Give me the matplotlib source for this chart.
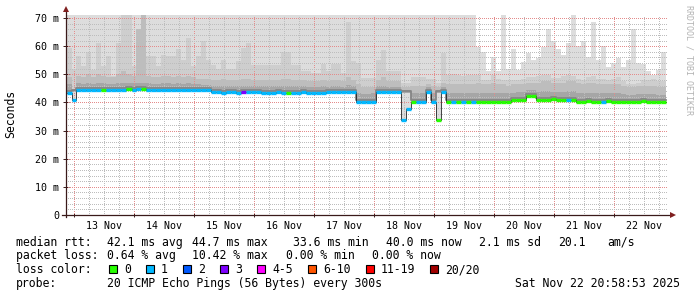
import numpy as np
import matplotlib
matplotlib.use('Agg')
import matplotlib.pyplot as plt
from matplotlib.patches import Rectangle
from matplotlib.transforms import offset_copy

plt.rcParams['font.family'] = 'DejaVu Sans Mono'
plt.rcParams['lines.scale_dashes'] = False

# ---- data (2 hour bins, first bin starts Nov 12 21:00, hours counted from Nov 12 00:00)
t_start = 21
bin_hours = 2

median = [43.5, 40.8, 44.4, 44.4, 44.4, 44.5, 44.4, 44.4, 44.5, 44.4,
          44.5, 44.4, 44.6, 44.5, 44.6, 44.6, 44.5, 44.5, 44.4, 44.5,
          44.5, 44.5, 44.4, 44.5, 44.4, 44.4, 44.4, 44.3, 44.3, 43.7,
          43.6, 43.2, 43.6, 43.6, 43.5, 43.6, 43.6, 43.6, 43.6, 43.5,
          43.5, 43.5, 43.6, 43.4, 43.5, 43.3, 43.3, 43.6, 43.3, 43.5,
          43.3, 43.4, 43.6, 43.6, 43.6, 43.6, 43.7, 43.7, 40.3, 40.2,
          40.2, 40.3, 43.6, 43.7, 43.7, 43.6, 43.6, 33.8, 37.6, 40.3,
          40.3, 40.3, 43.6, 40.3, 33.6, 43.6, 40.3, 40.2, 40.3, 40.2,
          40.3, 40.2, 40.3, 40.3, 40.2, 40.3, 40.3, 40.3, 40.3, 41.0,
          41.0, 41.0, 42.3, 42.3, 41.0, 41.0, 41.0, 41.1, 41.0, 41.0,
          41.0, 40.8, 40.3, 40.3, 40.4, 40.3, 40.3, 40.3, 40.4, 40.3,
          40.3, 40.2, 40.3, 40.3, 40.3, 40.4, 40.3, 40.3, 40.3, 40.3]

# bottom of the darker smoke (differs from median inside the short dips)
smoke_floor = [43.5, 43.6, 44.4, 44.4, 44.4, 44.5, 44.4, 44.4, 44.5, 44.4,
               44.5, 44.4, 44.6, 44.5, 44.6, 44.6, 44.5, 44.5, 44.4, 44.5,
               44.5, 44.5, 44.4, 44.5, 44.4, 44.4, 44.4, 44.3, 44.3, 43.7,
               43.6, 43.2, 43.6, 43.6, 43.5, 43.6, 43.6, 43.6, 43.6, 43.5,
               43.5, 43.5, 43.6, 43.4, 43.5, 43.3, 43.3, 43.6, 43.3, 43.5,
               43.3, 43.4, 43.6, 43.6, 43.6, 43.6, 43.7, 43.7, 40.3, 40.2,
               40.2, 40.3, 43.6, 43.7, 43.7, 43.6, 43.6, 43.5, 43.5, 40.3,
               40.3, 40.3, 43.6, 40.3, 43.5, 43.6, 40.3, 40.2, 40.3, 40.2,
               40.3, 40.2, 40.3, 40.3, 40.2, 40.3, 40.3, 40.3, 40.3, 41.0,
               41.0, 41.0, 42.3, 42.3, 41.0, 41.0, 41.0, 41.1, 41.0, 41.0,
               41.0, 40.8, 40.3, 40.3, 40.4, 40.3, 40.3, 40.3, 40.4, 40.3,
               40.3, 40.2, 40.3, 40.3, 40.3, 40.4, 40.3, 40.3, 40.3, 40.3]

# loss class of each bin: 0=0, 1=1, 2=2, 3=3, 4=4-5, 5=6-10, 6=11-19, 7=20/20
loss = [1, 1, 1, 1, 1, 1, 1, 0, 1, 1,
        1, 1, 0, 1, 1, 0, 1, 1, 1, 1,
        1, 1, 1, 1, 1, 1, 1, 1, 1, 1,
        1, 1, 1, 1, 1, 3, 1, 1, 1, 1,
        1, 1, 1, 1, 0, 1, 1, 1, 1, 1,
        1, 1, 1, 1, 1, 1, 1, 1, 1, 1,
        1, 1, 1, 1, 1, 1, 1, 1, 1, 0,
        1, 1, 1, 1, 0, 1, 0, 1, 0, 1,
        0, 1, 0, 0, 0, 0, 0, 0, 0, 0,
        0, 0, 0, 0, 0, 0, 0, 0, 0, 0,
        1, 0, 0, 0, 0, 0, 0, 1, 0, 0,
        0, 0, 0, 0, 0, 0, 0, 0, 0, 0]

# smoke: max ping and three inner percentile levels (ms)
smoke_max = [75, 75, 75, 75, 75, 75, 75, 75, 75, 75,
             75, 75, 75, 75, 75, 75, 75, 75, 75, 75,
             75, 75, 75, 75, 75, 75, 75, 75, 75, 75,
             75, 75, 75, 75, 75, 75, 75, 75, 75, 75,
             75, 75, 75, 75, 75, 75, 75, 75, 75, 75,
             75, 75, 75, 75, 75, 75, 75, 75, 75, 75,
             75, 75, 75, 75, 75, 75, 75, 75, 75, 75,
             75, 75, 75, 75, 75, 75, 75, 75, 75, 75,
             75, 75, 59.8, 58, 51, 56, 51, 75, 52, 59,
             51.5, 54.4, 57.4, 55, 55.7, 59.8, 66, 62, 59, 56.7,
             61, 75, 60, 62, 56, 68.7, 55, 60, 52.5, 54,
             55.7, 52.5, 55, 66, 54, 53.5, 51, 49.7, 51.5, 58]

smoke_p2 = [59.4, 52, 56.6, 53, 58, 51.5, 61, 53, 56.6, 49.5,
            61, 75, 75, 53, 56, 62.5, 56.6, 56.6, 53, 57,
            56.6, 56.6, 59, 55, 63, 53, 56.6, 62, 55, 53.3,
            52, 55, 52, 52, 54.6, 59.4, 61.1, 53.3, 53.3, 53.3,
            53.3, 53.3, 53.3, 58, 58, 53.3, 53.3, 51, 51, 50.5,
            50.5, 53.8, 51, 53.8, 53.8, 50.5, 68.7, 54.6, 54, 48.7,
            48.7, 48.7, 55, 58.6, 51, 51, 51, 47, 47, 49,
            49, 49, 48.5, 48.5, 47, 57.4, 49.7, 50, 49.7, 49.5,
            49.7, 49.7, 49.8, 48, 48, 49.8, 48.5, 48, 48, 48,
            48, 48.5, 49, 49, 49.5, 49.8, 49.8, 48.8, 48.8, 49.5,
            49.8, 49.5, 48.5, 48, 49, 49.5, 48.5, 48.5, 48, 48.5,
            49, 47.5, 46.5, 46.5, 47, 48, 48, 48.5, 47.5, 47.5]

smoke_p3 = [49, 44, 49.5, 49, 50, 49, 50, 49.5, 49, 49,
            50, 51, 50, 49.5, 66, 75, 49.5, 49, 49, 49.5,
            49.5, 49, 49.5, 49, 49.5, 49, 48.5, 48.5, 48.5, 48,
            48, 48.5, 48, 48, 48, 48.5, 48.5, 48, 48, 48,
            48, 48, 48, 48.5, 48.5, 48, 48, 48, 47.5, 47.5,
            47.5, 48, 47.5, 48, 48, 47.5, 49, 48, 46.5, 45.5,
            45.5, 45.5, 48, 49, 47.5, 47.5, 47.5, 45.5, 45.5, 46,
            46, 46, 46.5, 46, 45.5, 47, 46.5, 46.5, 46.5, 46.5,
            46.5, 46.5, 47, 46.5, 46.5, 47, 46.5, 46.5, 46, 46.5,
            46.5, 46.5, 47, 47, 47, 47.5, 47.5, 47, 47, 47,
            47.5, 47.5, 47, 46.5, 47, 47, 46.5, 46.5, 46.5, 46.5,
            46.5, 46, 45.5, 45.5, 46, 46, 46, 46, 45.5, 45.5]

smoke_p4 = [46.5, 44.5, 46.8, 46.5, 47, 46.5, 47, 46.8, 46.5, 46.5,
            47, 47, 47, 46.8, 47, 47, 46.8, 46.5, 46.5, 46.8,
            46.8, 46.5, 46.8, 46.5, 46.8, 46.5, 46.5, 46.3, 46.3, 45.8,
            45.8, 46, 45.8, 45.8, 45.8, 46, 46, 45.8, 45.8, 45.8,
            45.8, 45.8, 45.8, 46, 46, 45.8, 45.8, 45.8, 45.5, 45.5,
            45.5, 45.8, 45.5, 45.8, 45.8, 45.5, 46.2, 45.8, 43.5, 43,
            43, 43.2, 45.8, 46, 45.5, 45.5, 45.5, 44.5, 44.5, 43.2,
            43.2, 43.2, 45.5, 43.2, 44.5, 45.5, 43.3, 43.3, 43.3, 43.3,
            43.3, 43.3, 43.5, 43.3, 43.3, 43.5, 43.3, 43.3, 43.2, 43.5,
            43.8, 43.8, 44.5, 44.5, 43.8, 44, 44, 43.8, 43.8, 43.8,
            44, 44, 43.5, 43.3, 43.5, 43.5, 43.3, 43.3, 43.3, 43.3,
            43.3, 43, 42.8, 42.8, 43, 43, 43, 43, 42.8, 42.8]

day_labels = ['13 Nov', '14 Nov', '15 Nov', '16 Nov', '17 Nov',
              '18 Nov', '19 Nov', '20 Nov', '21 Nov', '22 Nov']
y_ticks = [0, 10, 20, 30, 40, 50, 60, 70]
y_labels = ['0', '10 m', '20 m', '30 m', '40 m', '50 m', '60 m', '70 m']

loss_names = ['0', '1', '2', '3', '4-5', '6-10', '11-19', '20/20']
loss_colors = ['#26ff00', '#00b8ff', '#0059ff', '#7e00ff', '#ff00ff',
               '#ff5500', '#ff0000', '#a10000']

rtt_items = [('median rtt:', 16), ('42.1 ms avg', 107), ('44.7 ms max', 192),
             ('33.6 ms min', 293), ('40.0 ms now', 386), ('2.1 ms sd', 479),
             ('20.1', 558), ('am/s', 607)]
loss_items = [('packet loss:', 16), ('0.64 % avg', 107), ('10.42 % max', 192),
              ('0.00 % min', 286), ('0.00 % now', 372)]
probe_text = '20 ICMP Echo Pings (56 Bytes) every 300s'
stamp = 'Sat Nov 22 20:58:53 2025'

# ---- figure
W, H = 697, 297
fig = plt.figure(figsize=(W / 100, H / 100), dpi=100)
fig.patch.set_facecolor('white')
ax = fig.add_axes([66 / W, 1 - 215 / H, 602 / W, 200 / H])
ax.set_xlim(20.8, 261.6)
ax.set_ylim(0, 71.07)
for s in ax.spines.values():
    s.set_visible(False)

n = len(median)
edges = t_start + bin_hours * np.arange(n + 1)


def ext(v):
    return np.append(v, v[-1])


ax.fill_between(edges, ext(median), ext(smoke_max), step='post',
                color='#dddddd', lw=0, zorder=1)
ax.fill_between(edges, ext(smoke_floor), ext(smoke_p2), step='post',
                color='#cecece', lw=0, zorder=1.1)
ax.fill_between(edges, ext(smoke_floor), ext(smoke_p3), step='post',
                color='#bdbdbd', lw=0, zorder=1.2)
ax.fill_between(edges, ext(smoke_floor), ext(smoke_p4), step='post',
                color='#a6a6a6', lw=0, zorder=1.3)

# grid: 1 px dots with 1 px gaps (dash lengths in points: 0.72 pt = 1 px)
red = '#e48c8c'
grey = '#bdbdbd'
dots = (0, (0.72, 1.44))
for h in range(24, 262, 6):
    ax.axvline(h, color=red if h % 24 == 0 else grey, lw=0.72, ls=dots,
               antialiased=False, zorder=2)
for v in range(2, 72, 2):
    ax.axhline(v, color=red if v % 10 == 0 else grey, lw=0.72, ls=dots,
               antialiased=False, zorder=2)

# dark core just above the median, edge line and loss coloured median
up = offset_copy(ax.transData, fig=fig, x=0, y=2, units='dots')
ax.step(edges, ext(smoke_floor), where='post', color='#858585', lw=1.3,
        transform=up, zorder=3)
ax.step(edges, ext(median), where='post', color='#222222', lw=0.6, zorder=4)
ax.hlines(median, edges[:-1], edges[1:], colors=[loss_colors[k] for k in loss],
          lw=2.4, zorder=5)

# axes lines with arrows
axis_col = '#3a1a1a'
ax.plot([-0.007, 1.006], [0, 0], color=axis_col, lw=0.9,
        transform=ax.transAxes, clip_on=False, zorder=6)
ax.plot([0, 0], [-0.01, 1.02], color=axis_col, lw=0.9,
        transform=ax.transAxes, clip_on=False, zorder=6)
ax.plot([1.009], [0], marker='>', ms=4.5, color='#7f1f1f', mew=0,
        transform=ax.transAxes, clip_on=False, zorder=6)
ax.plot([0], [1.03], marker='^', ms=4.5, color='#7f1f1f', mew=0,
        transform=ax.transAxes, clip_on=False, zorder=6)

# ticks
ax.set_xticks(np.arange(36, 253, 24))
ax.set_xticklabels(day_labels)
ax.set_xticks(np.arange(24, 262, 24), minor=True)
ax.tick_params(axis='x', which='major', length=0, pad=4, labelsize=7.2)
ax.tick_params(axis='x', which='minor', length=3, direction='inout',
               width=0.7, color=axis_col)
ax.set_yticks(y_ticks)
ax.set_yticklabels(y_labels)
ax.tick_params(axis='y', length=4, direction='inout', width=0.7,
               color=axis_col, pad=3, labelsize=7.2)

fig.text(11 / W, 1 - 113.5 / H, 'Seconds', rotation=90, ha='center',
         va='center', fontsize=8.3)
fig.text(688.5 / W, 1 - 60 / H, 'RRDTOOL / TOBI OETIKER', rotation=270,
         ha='center', va='center', fontsize=6, color='#b3b3b3')

# legend block
fs = 8.3
for txt, x in rtt_items:
    fig.text(x / W, 1 - 245.7 / H, txt, fontsize=fs, va='baseline')
for txt, x in loss_items:
    fig.text(x / W, 1 - 259.3 / H, txt, fontsize=fs, va='baseline')
fig.text(16 / W, 1 - 273.3 / H, 'loss color:', fontsize=fs, va='baseline')
box_x = [108.7, 145.7, 182.7, 219.7, 256.7, 307.6, 365.5, 430.3]
for name, col, x in zip(loss_names, loss_colors, box_x):
    fig.patches.append(Rectangle((x / W, 1 - 273 / H), 8 / W, 8 / H,
                                 transform=fig.transFigure, facecolor=col,
                                 edgecolor='black', lw=0.8))
    fig.text((x + 15.3) / W, 1 - 273.3 / H, name, fontsize=fs, va='baseline')
fig.text(16 / W, 1 - 287.3 / H, 'probe:', fontsize=fs, va='baseline')
fig.text(107 / W, 1 - 287.3 / H, probe_text, fontsize=fs, va='baseline')
fig.text(680 / W, 1 - 287.3 / H, stamp, fontsize=fs, va='baseline', ha='right')

fig.savefig('out.png', dpi=100, facecolor='white')
